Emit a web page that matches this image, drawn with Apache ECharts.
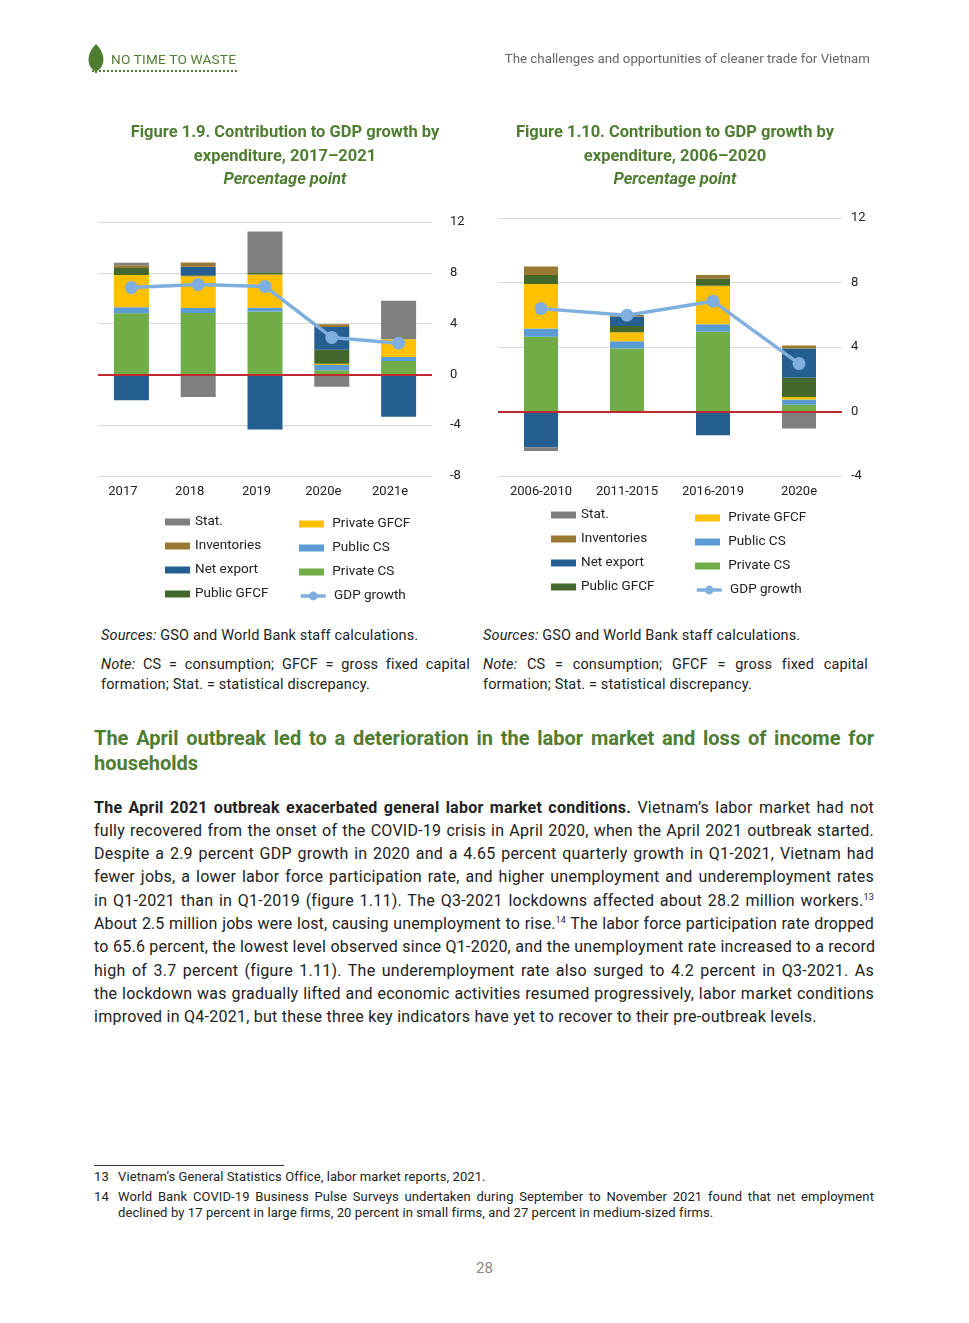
<!DOCTYPE html>
<html><head><meta charset="utf-8">
<script src="https://cdn.jsdelivr.net/npm/echarts/dist/echarts.min.js"></script>
<style>
body{margin:0;background:#fff;font-family:Roboto,"Noto Sans",sans-serif;color:#222;}
#page{position:relative;width:969px;height:1323px;overflow:hidden;background:#fff;}
#chart{position:absolute;left:0;top:0;width:969px;height:620px;}
.abs{position:absolute;white-space:nowrap;}
.j{text-align:justify;text-align-last:justify;white-space:nowrap;}
.green{color:#4E7D32;}
.ttl{position:absolute;width:500px;text-align:center;font-weight:700;font-size:16.5px;line-height:23.5px;color:#4E7D32;}
.sup{font-size:9px;line-height:0;position:relative;top:-6px;vertical-align:baseline;}
.src{font-size:14.5px;line-height:18px;letter-spacing:0.15px;}
.fn{font-size:13px;line-height:16px;letter-spacing:0.1px;}
.body > div{height:23.3px;}
</style></head>
<body><div id="page">
<div id="chart"></div>

<!-- header -->
<svg class="abs" style="left:86px;top:42px" width="22" height="34" viewBox="86 42 22 34">
<path d="M96,44 C104,52 106,62 100,69 L97,71 L97,73 L95,73 L95,71 L92,69 C86,62 88,52 96,44 Z" fill="#4E7D32"/>
</svg>
<div class="abs green" style="left:111px;top:51px;font-size:13.6px;line-height:16px;letter-spacing:0.2px">NO TIME TO WASTE</div>
<div class="abs" style="left:92px;top:70px;width:145px;border-top:2px dotted #4E7D32"></div>
<div class="abs" style="right:99px;top:51px;font-size:13.3px;line-height:16px;color:#666">The challenges and opportunities of cleaner trade for Vietnam</div>

<!-- figure titles -->
<div class="ttl" style="left:35px;top:120px">Figure 1.9. Contribution to GDP growth by<br>expenditure, 2017–2021<br><i>Percentage point</i></div>
<div class="ttl" style="left:425px;top:120px">Figure 1.10. Contribution to GDP growth by<br>expenditure, 2006–2020<br><i>Percentage point</i></div>

<!-- sources & notes -->
<div class="abs src" style="left:101px;top:627px"><i>Sources:</i> GSO and World Bank staff calculations.</div>
<div class="abs j src" style="left:101px;top:656px;width:369px"><i>Note:</i> CS = consumption; GFCF = gross fixed capital</div>
<div class="abs src" style="left:101px;top:676px">formation; Stat. = statistical discrepancy.</div>
<div class="abs src" style="left:483px;top:627px"><i>Sources:</i> GSO and World Bank staff calculations.</div>
<div class="abs j src" style="left:483px;top:656px;width:385px"><i>Note:</i> CS = consumption; GFCF = gross fixed capital</div>
<div class="abs src" style="left:483px;top:676px">formation; Stat. = statistical discrepancy.</div>

<!-- section heading -->
<div class="abs j green" style="left:94px;top:726px;width:780px;font-size:20px;font-weight:700;line-height:24px">The April outbreak led to a deterioration in the labor market and loss of income for</div>
<div class="abs green" style="left:94px;top:751px;font-size:20px;font-weight:700;line-height:24px">households</div>

<!-- body -->
<div class="abs body" style="left:94px;top:795.5px;width:780px;font-size:16px;line-height:23.3px;letter-spacing:0.25px">
<div class="j"><b>The April 2021 outbreak exacerbated general labor market conditions.</b> Vietnam’s labor market had not</div>
<div class="j">fully recovered from the onset of the COVID-19 crisis in April 2020, when the April 2021 outbreak started.</div>
<div class="j">Despite a 2.9 percent GDP growth in 2020 and a 4.65 percent quarterly growth in Q1-2021, Vietnam had</div>
<div class="j">fewer jobs, a lower labor force participation rate, and higher unemployment and underemployment rates</div>
<div class="j">in Q1-2021 than in Q1-2019 (figure 1.11). The Q3-2021 lockdowns affected about 28.2 million workers.<span class="sup">13</span></div>
<div class="j" style="letter-spacing:0.12px">About 2.5 million jobs were lost, causing unemployment to rise.<span class="sup">14</span> The labor force participation rate dropped</div>
<div class="j">to 65.6 percent, the lowest level observed since Q1-2020, and the unemployment rate increased to a record</div>
<div class="j">high of 3.7 percent (figure 1.11). The underemployment rate also surged to 4.2 percent in Q3-2021. As</div>
<div class="j">the lockdown was gradually lifted and economic activities resumed progressively, labor market conditions</div>
<div style="white-space:nowrap">improved in Q4-2021, but these three key indicators have yet to recover to their pre-outbreak levels.</div>
</div>

<!-- footnotes -->
<div class="abs" style="left:94px;top:1165px;width:190px;border-top:1px solid #333"></div>
<div class="abs fn" style="left:94px;top:1169px">13</div>
<div class="abs fn" style="left:118px;top:1169px">Vietnam’s General Statistics Office, labor market reports, 2021.</div>
<div class="abs fn" style="left:94px;top:1189px">14</div>
<div class="abs j fn" style="left:118px;top:1189px;width:756px">World Bank COVID-19 Business Pulse Surveys undertaken during September to November 2021 found that net employment</div>
<div class="abs fn" style="left:118px;top:1205px">declined by 17 percent in large firms, 20 percent in small firms, and 27 percent in medium-sized firms.</div>

<div class="abs" style="left:0;width:969px;text-align:center;top:1259px;font-size:15px;line-height:18px;color:#888">28</div>
</div>

<script>
// ---- Figure 1.9 data (percentage points) ----
const cats1 = ['2017', '2018', '2019', '2020e', '2021e'];
const privateCS1   = [4.81, 4.83, 4.96, 0.32, 1.05];
const publicCS1    = [0.47, 0.40, 0.29, 0.42, 0.32];
const privateGFCF1 = [2.55, 2.50, 2.61, 0.10, 1.40];
const publicGFCF1  = [0.55, 0.08, 0.18, 1.10, 0];
const netExport1   = [-2.03, 0.66, -4.33, 1.80, -3.33];
const inventories1 = [0.22, 0.34, 0, 0.20, 0];
const stat1        = [0.20, -1.77, 3.22, -0.98, 3.03];
const gdp1         = [6.84, 7.08, 6.93, 2.91, 2.46];
const yTicks1 = {min: -8, max: 12, interval: 4};

// ---- Figure 1.10 data (percentage points) ----
const cats2 = ['2006-2010', '2011-2015', '2016-2019', '2020e'];
const privateCS2   = [4.64, 3.91, 4.95, 0.42];
const publicCS2    = [0.50, 0.44, 0.46, 0.33];
const privateGFCF2 = [2.77, 0.56, 2.39, 0.15];
const publicGFCF2  = [0.56, 0.40, 0.44, 1.20];
const netExport2   = [-2.22, 0.58, -1.48, 1.81];
const inventories2 = [0.52, 0.10, 0.23, 0.19];
const stat2        = [-0.23, -0.08, 0, -1.06];
const gdp2         = [6.38, 5.97, 6.84, 2.97];
const yTicks2 = {min: -4, max: 12, interval: 4};

const colors = {
  'Stat.': '#7F7F7F', 'Inventories': '#9A7A33', 'Net export': '#255E91', 'Public GFCF': '#43682B',
  'Private GFCF': '#FFC000', 'Public CS': '#5B9BD5', 'Private CS': '#70AD47', 'GDP growth': '#7FAFDF'
};

function seriesFor(idx, d, barWidth) {
  const bars = [
    ['Private CS', d.pcs], ['Public CS', d.gcs], ['Private GFCF', d.pgf], ['Public GFCF', d.ggf],
    ['Net export', d.nx], ['Inventories', d.inv], ['Stat.', d.stat]
  ];
  const out = bars.map(([name, vals], i) => {
    const s = {
      name, type: 'bar', stack: 'g' + idx, xAxisIndex: idx, yAxisIndex: idx,
      barWidth, data: vals, itemStyle: {color: colors[name]}, emphasis: {disabled: true}
    };
    if (i === 0) {
      s.markLine = {silent: true, symbol: 'none', label: {show: false}, z: 5,
        lineStyle: {color: '#C0282D', width: 2, type: 'solid'}, data: [{yAxis: 0}]};
    }
    return s;
  });
  out.push({
    name: 'GDP growth', type: 'line', xAxisIndex: idx, yAxisIndex: idx, data: d.gdp, z: 10,
    symbol: 'circle', symbolSize: 13, itemStyle: {color: colors['GDP growth']},
    lineStyle: {color: colors['GDP growth'], width: 3.5}
  });
  return out;
}

const legendText = {fontSize: 13.5, color: '#222', lineHeight: 14, fontFamily: 'Roboto'};
function legendFor(left, top, names, padLeft) {
  return {
    orient: 'vertical', left, top, itemWidth: 25, itemHeight: 7, itemGap: 10, selectedMode: false,
    data: names.map(n => ({name: n, icon: 'rect'})),
    formatter: padLeft ? (n => ' ' + n) : (n => n),
    textStyle: legendText
  };
}
function lineLegend(left, top) {
  return {
    left, top, itemWidth: 25, itemHeight: 11, selectedMode: false,
    data: [{name: 'GDP growth', lineStyle: {width: 3.5}}],
    formatter: n => ' ' + n, textStyle: legendText
  };
}

const axisText = {fontSize: 13, color: '#222', fontFamily: 'Roboto'};
const leftNames = ['Stat.', 'Inventories', 'Net export', 'Public GFCF'];
const rightNames = ['Private GFCF', 'Public CS', 'Private CS'];

const option = {
  animation: false,
  grid: [
    {left: 98, top: 222, width: 334, height: 254},
    {left: 498, top: 218, width: 344, height: 258}
  ],
  xAxis: [
    {type: 'category', gridIndex: 0, data: cats1, axisLine: {show: false}, axisTick: {show: false},
     axisLabel: Object.assign({margin: 9, padding: [0, 17, 0, 0]}, axisText)},
    {type: 'category', gridIndex: 1, data: cats2, axisLine: {show: false}, axisTick: {show: false},
     axisLabel: Object.assign({margin: 9}, axisText)}
  ],
  yAxis: [
    {type: 'value', gridIndex: 0, position: 'right', min: yTicks1.min, max: yTicks1.max, interval: yTicks1.interval,
     axisLine: {show: false}, axisTick: {show: false}, axisLabel: Object.assign({margin: 18}, axisText),
     splitLine: {lineStyle: {color: '#D9D9D9', width: 1}}},
    {type: 'value', gridIndex: 1, position: 'right', min: yTicks2.min, max: yTicks2.max, interval: yTicks2.interval,
     axisLine: {show: false}, axisTick: {show: false}, axisLabel: Object.assign({margin: 9}, axisText),
     splitLine: {lineStyle: {color: '#D9D9D9', width: 1}}}
  ],
  legend: [
    legendFor(160, 510, leftNames, false),
    legendFor(294, 512, rightNames, true),
    lineLegend(294, 584),
    legendFor(546, 503, leftNames, false),
    legendFor(690, 506, rightNames, true),
    lineLegend(690, 578)
  ],
  series: [].concat(
    seriesFor(0, {pcs: privateCS1, gcs: publicCS1, pgf: privateGFCF1, ggf: publicGFCF1, nx: netExport1, inv: inventories1, stat: stat1, gdp: gdp1}, 35),
    seriesFor(1, {pcs: privateCS2, gcs: publicCS2, pgf: privateGFCF2, ggf: publicGFCF2, nx: netExport2, inv: inventories2, stat: stat2, gdp: gdp2}, 34)
  )
};
const chart = echarts.init(document.getElementById('chart'), null, {renderer: 'canvas'});
chart.setOption(option);
</script>
</body></html>
